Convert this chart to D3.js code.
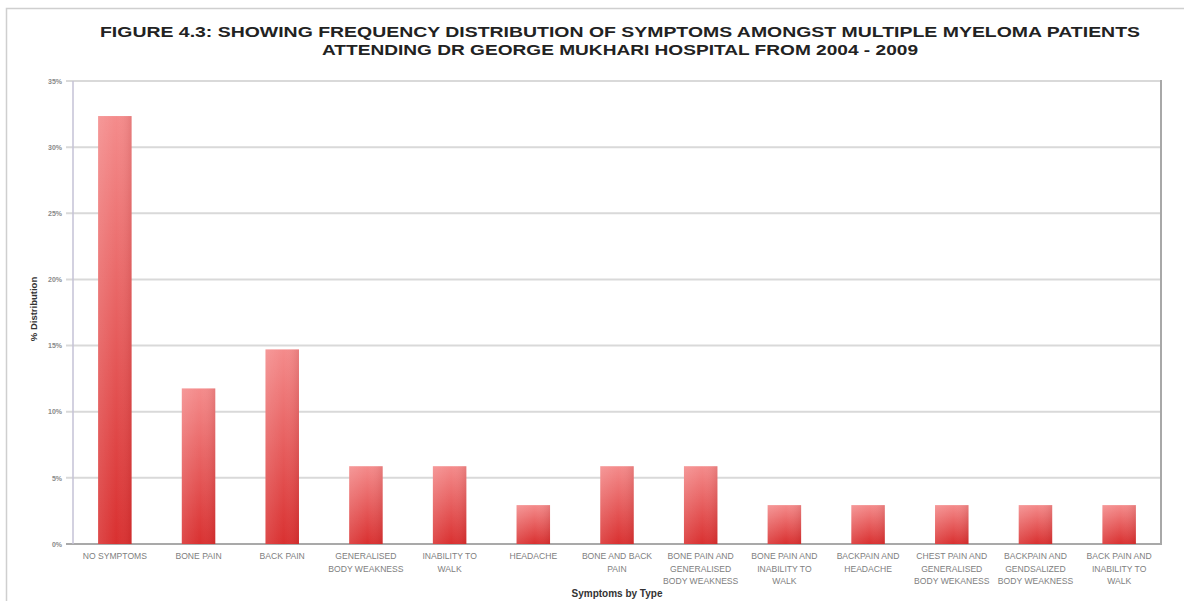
<!DOCTYPE html>
<html>
<head>
<meta charset="utf-8">
<script src="https://cdn.jsdelivr.net/npm/d3@7"></script>
<style>
  html, body { margin: 0; padding: 0; background: #fff; }
  svg { display: block; }
</style>
</head>
<body>
<svg id="chart" width="1184" height="601"></svg>
<script>
// Symptom categories (label lines) and share of patients (%)
const categories = [
  ["NO SYMPTOMS"],
  ["BONE PAIN"],
  ["BACK PAIN"],
  ["GENERALISED", "BODY WEAKNESS"],
  ["INABILITY TO", "WALK"],
  ["HEADACHE"],
  ["BONE AND BACK", "PAIN"],
  ["BONE PAIN AND", "GENERALISED", "BODY WEAKNESS"],
  ["BONE PAIN AND", "INABILITY TO", "WALK"],
  ["BACKPAIN  AND", "HEADACHE"],
  ["CHEST PAIN AND", "GENERALISED", "BODY WEKANESS"],
  ["BACKPAIN AND", "GENDSALIZED", "BODY WEAKNESS"],
  ["BACK PAIN AND", "INABILITY TO", "WALK"]
];
const values = [32.35, 11.76, 14.71, 5.88, 5.88, 2.94, 5.88, 5.88, 2.94, 2.94, 2.94, 2.94, 2.94];
const yTicks = [0, 5, 10, 15, 20, 25, 30, 35];
const titleLines = [
  "FIGURE 4.3: SHOWING FREQUENCY DISTRIBUTION OF SYMPTOMS AMONGST MULTIPLE MYELOMA PATIENTS",
  "ATTENDING DR GEORGE MUKHARI HOSPITAL FROM 2004 - 2009"
];
const yTitle = "% Distribution";
const xTitle = "Symptoms by Type";

const svg = d3.select("#chart");
const plot = { left: 73, right: 1161, top: 81, bottom: 544 };

// Outer frame
svg.append("rect")
  .attr("x", 6.5).attr("y", 8.5).attr("width", 1200).attr("height", 620)
  .attr("fill", "none").attr("stroke", "#cfcfcf").attr("stroke-width", 1.5);

const defs = svg.append("defs");
const grad = defs.append("linearGradient").attr("id", "barFill")
  .attr("x1", 0).attr("y1", 0).attr("x2", 0).attr("y2", 1);
grad.append("stop").attr("offset", "0%").attr("stop-color", "#f48b8b");
grad.append("stop").attr("offset", "100%").attr("stop-color", "#d93030");
const shade = defs.append("linearGradient").attr("id", "barShade")
  .attr("x1", 0).attr("y1", 0).attr("x2", 1).attr("y2", 0);
shade.append("stop").attr("offset", "0%").attr("stop-color", "#fff").attr("stop-opacity", 0.12);
shade.append("stop").attr("offset", "55%").attr("stop-color", "#fff").attr("stop-opacity", 0);
shade.append("stop").attr("offset", "100%").attr("stop-color", "#7a0000").attr("stop-opacity", 0.12);

const x = d3.scaleBand()
  .domain(d3.range(categories.length))
  .range([plot.left, plot.right])
  .paddingInner(0.6).paddingOuter(0.3);

const y = d3.scaleLinear().domain([0, 35]).range([plot.bottom, plot.top]);

// Gridlines
svg.append("g")
  .selectAll("line")
  .data(yTicks)
  .join("line")
  .attr("x1", plot.left - 7).attr("x2", plot.right)
  .attr("y1", d => y(d)).attr("y2", d => y(d))
  .attr("stroke", d => d === 0 ? "#a9a9a9" : "#d9d9d9")
  .attr("stroke-width", 2);

// Left axis line and right border
svg.append("line")
  .attr("x1", plot.left).attr("x2", plot.left)
  .attr("y1", plot.top).attr("y2", plot.bottom)
  .attr("stroke", "#c4c2d6").attr("stroke-width", 1.5);
svg.append("line")
  .attr("x1", plot.right).attr("x2", plot.right)
  .attr("y1", plot.top - 1).attr("y2", plot.bottom + 1)
  .attr("stroke", "#a8a8a8").attr("stroke-width", 2);

// Y tick labels
const yAxis = d3.axisLeft(y).tickValues(yTicks).tickFormat(d => d + "%").tickSize(0).tickPadding(11);
const gy = svg.append("g").attr("transform", `translate(${plot.left},0)`).call(yAxis);
gy.select(".domain").remove();
gy.selectAll("text")
  .attr("font-family", "'Liberation Sans', Arial, sans-serif")
  .attr("font-size", 7).attr("font-weight", "bold").attr("fill", "#8a8a8a");

// Bars
const bars = svg.append("g");
bars.selectAll("rect.bar")
  .data(values)
  .join("rect")
  .attr("class", "bar")
  .attr("x", (d, i) => x(i)).attr("width", x.bandwidth())
  .attr("y", d => y(d)).attr("height", d => y(0) - y(d))
  .attr("fill", "url(#barFill)");
bars.selectAll("rect.shade")
  .data(values)
  .join("rect")
  .attr("class", "shade")
  .attr("x", (d, i) => x(i)).attr("width", x.bandwidth())
  .attr("y", d => y(d)).attr("height", d => y(0) - y(d))
  .attr("fill", "url(#barShade)");

// X category labels
const xl = svg.append("g")
  .attr("font-family", "'Liberation Sans', Arial, sans-serif")
  .attr("font-size", 8.6).attr("fill", "#808080")
  .attr("text-anchor", "middle");
categories.forEach((lines, i) => {
  const t = xl.append("text")
    .attr("x", x(i) + x.bandwidth() / 2)
    .attr("y", 559);
  lines.forEach((ln, k) => {
    t.append("tspan")
      .attr("x", x(i) + x.bandwidth() / 2)
      .attr("dy", k === 0 ? 0 : 12.5)
      .text(ln);
  });
});

// Axis titles
svg.append("text")
  .attr("x", 617).attr("y", 597)
  .attr("text-anchor", "middle")
  .attr("font-family", "'Liberation Sans', Arial, sans-serif")
  .attr("font-size", 10).attr("font-weight", "bold").attr("fill", "#333")
  .text(xTitle);
svg.append("text")
  .attr("transform", "translate(37,309) rotate(-90)")
  .attr("text-anchor", "middle")
  .attr("font-family", "'Liberation Sans', Arial, sans-serif")
  .attr("font-size", 9.5).attr("font-weight", "bold").attr("fill", "#333")
  .text(yTitle);

// Title
svg.append("g")
  .attr("font-family", "'Liberation Sans Narrow', 'Arial Narrow', 'Liberation Sans', Arial, sans-serif")
  .attr("font-weight", "bold").attr("font-size", 15).attr("fill", "#222")
  .attr("text-anchor", "middle")
  .selectAll("text")
  .data(titleLines)
  .join("text")
  .attr("x", 620)
  .attr("y", (d, i) => 37 + i * 18)
  .attr("textLength", (d, i) => i === 0 ? 1040 : 596)
  .attr("lengthAdjust", "spacingAndGlyphs")
  .text(d => d);
</script>
</body>
</html>
